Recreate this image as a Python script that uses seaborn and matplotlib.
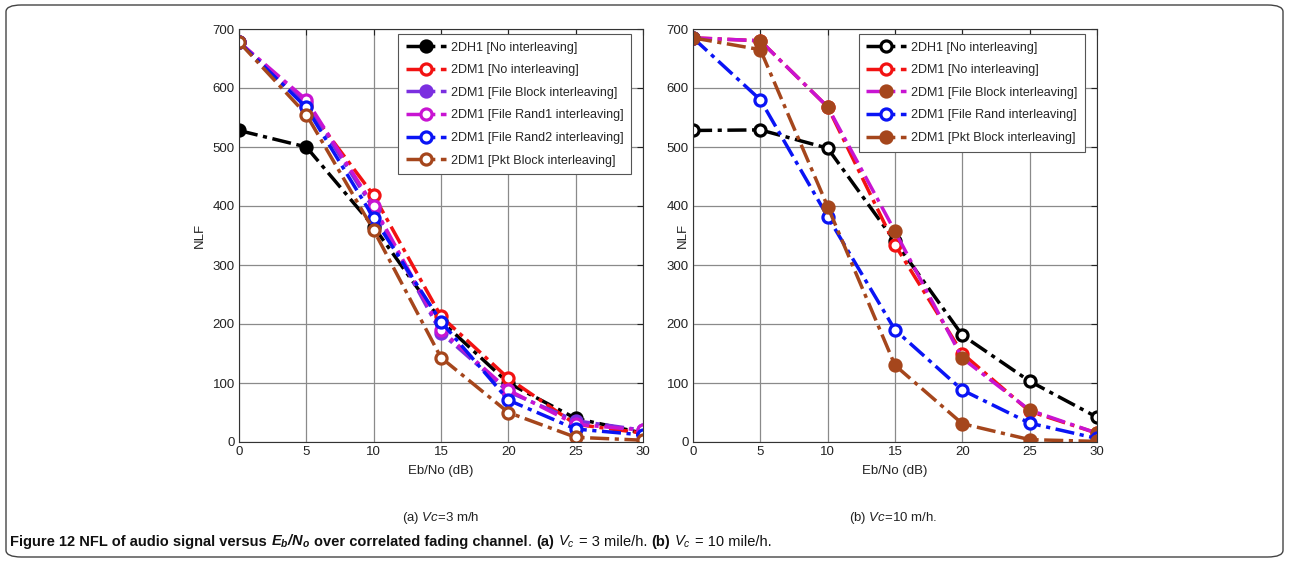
import numpy as np
import pandas as pd
import matplotlib
matplotlib.use("Agg")
import matplotlib.pyplot as plt
import seaborn as sns
from matplotlib.patches import FancyBboxPatch
from matplotlib.transforms import IdentityTransform

# ---------------- data ----------------
ebno = [0, 5, 10, 15, 20, 25, 30]

# (a) Vc = 3 m/h
a_labels = ["2DH1 [No interleaving]", "2DM1 [No interleaving]",
            "2DM1 [File Block interleaving]", "2DM1 [File Rand1 interleaving]",
            "2DM1 [File Rand2 interleaving]", "2DM1 [Pkt Block interleaving]"]
a_dh1_no = [528, 500, 365, 205, 100, 40, 15]
a_dm1_no = [678, 570, 418, 213, 108, 30, 15]
a_dm1_fblock = [678, 575, 395, 185, 85, 36, 20]
a_dm1_frand1 = [678, 580, 400, 190, 88, 30, 20]
a_dm1_frand2 = [678, 567, 380, 204, 71, 22, 12]
a_dm1_pkt = [678, 555, 359, 143, 50, 8, 3]

# (b) Vc = 10 m/h
b_labels = ["2DH1 [No interleaving]", "2DM1 [No interleaving]",
            "2DM1 [File Block interleaving]", "2DM1 [File Rand interleaving]",
            "2DM1 [Pkt Block interleaving]"]
b_dh1_no = [528, 529, 498, 340, 181, 103, 42]
b_dm1_no = [685, 680, 568, 334, 150, 52, 15]
b_dm1_fblock = [685, 680, 568, 357, 142, 54, 15]
b_dm1_frand = [685, 580, 382, 190, 88, 32, 6]
b_dm1_pkt = [685, 665, 399, 130, 31, 4, 1]

x_ticks = [0, 5, 10, 15, 20, 25, 30]
y_ticks = [0, 100, 200, 300, 400, 500, 600, 700]

# ---------------- style ----------------
sns.set_style("white")
FONT = ["Liberation Sans", "DejaVu Sans"]
plt.rcParams["font.family"] = FONT
plt.rcParams["mathtext.fontset"] = "custom"
plt.rcParams["mathtext.rm"] = "Liberation Sans"
plt.rcParams["mathtext.it"] = "Liberation Sans:italic"
plt.rcParams["mathtext.bf"] = "Liberation Sans:bold:italic"

BLACK = "#000000"
RED = "#f21212"
PURPLE = "#7b2fe0"
MAGENTA = "#c814d2"
BLUE = "#0a14f5"
BROWN = "#a5461c"

fig = plt.figure(figsize=(12.89, 5.62), dpi=100)
W, H = 1289, 562
axA = fig.add_axes([239 / W, 1 - 442 / H, 404 / W, 413 / H])
axB = fig.add_axes([693 / W, 1 - 442 / H, 404 / W, 413 / H])

LW = 2.5
MS = 8
MEW = 2.3


def draw(ax, y, label, color, face, edge=None):
    edge = edge or color
    df = pd.DataFrame({"x": ebno, "y": y})
    sns.lineplot(data=df, x="x", y="y", ax=ax, color=color, label=label,
                 linestyle=(0, (5.5, 1.6, 1.2, 1.6)), linewidth=LW,
                 marker="o", markersize=MS, markerfacecolor=face,
                 markeredgecolor=edge, markeredgewidth=MEW)


draw(axA, a_dh1_no, a_labels[0], BLACK, BLACK)
draw(axA, a_dm1_no, a_labels[1], RED, "white")
draw(axA, a_dm1_fblock, a_labels[2], PURPLE, PURPLE)
draw(axA, a_dm1_frand1, a_labels[3], MAGENTA, "white")
draw(axA, a_dm1_frand2, a_labels[4], BLUE, "white")
draw(axA, a_dm1_pkt, a_labels[5], BROWN, "white")

draw(axB, b_dh1_no, b_labels[0], BLACK, "white")
draw(axB, b_dm1_no, b_labels[1], RED, "white")
draw(axB, b_dm1_fblock, b_labels[2], MAGENTA, BROWN, BROWN)
draw(axB, b_dm1_frand, b_labels[3], BLUE, "white")
draw(axB, b_dm1_pkt, b_labels[4], BROWN, BROWN)

for ax, ylab_x in ((axA, (200 - 239) / 404), (axB, (683 - 693) / 404)):
    ax.set_xlim(0, 30)
    ax.set_ylim(0, 700)
    ax.set_xticks(x_ticks)
    ax.set_yticks(y_ticks)
    ax.grid(True, color="#8a8a8a", linewidth=0.9)
    ax.set_axisbelow(True)
    ax.tick_params(direction="in", length=4, width=0.8, top=True, right=True,
                   labelsize=9.5, pad=3, colors="#222222")
    for s in ax.spines.values():
        s.set_color("#333333")
        s.set_linewidth(0.8)
    ax.set_xlabel("Eb/No (dB)", fontsize=9.5, color="#222222", va="center")
    ax.xaxis.set_label_coords(0.5, -0.07)
    ax.set_ylabel("NLF", fontsize=9.5, color="#222222", va="center")
    ax.yaxis.set_label_coords(ylab_x, 0.5)
    leg = ax.legend(loc="upper right",
                    bbox_to_anchor=(1 - 12 / 404, 1 - 5 / 413),
                    borderaxespad=0, fontsize=9, handlelength=3.2,
                    handletextpad=0.4, labelspacing=0.85, borderpad=0.6,
                    fancybox=False, framealpha=1, edgecolor="#555555")
    leg.get_frame().set_linewidth(0.8)

# sub captions
fig.text(441 / W, 1 - 518 / H, "(a) $Vc$=3 m/h", ha="center", va="center",
         fontsize=9.5, color="#222222")
fig.text(893 / W, 1 - 518 / H, "(b) $Vc$=10 m/h.", ha="center", va="center",
         fontsize=9.5, color="#222222")

# border
border = FancyBboxPatch((6 / W, 5 / H), (W - 12) / W, (H - 10) / H,
                        boxstyle="round,pad=0,rounding_size=0.012",
                        transform=fig.transFigure, fill=False,
                        edgecolor="#444444", linewidth=1.0)
fig.patches.append(border)

# caption (sequential pieces)
renderer = fig.canvas.get_renderer()
pieces = [
    ("Figure 12 NFL of audio signal versus", "bold", 0),
    (r"$\mathbf{E_b/N_o}$", "bold", 1),
    ("over correlated fading channel", "bold", 1),
    (".", "normal", 0),
    ("(a)", "bold", 1),
    (r"$V_c$", "normal", 1),
    ("= 3 mile/h.", "normal", 1),
    ("(b)", "bold", 1),
    (r"$V_c$", "normal", 1),
    ("= 10 mile/h.", "normal", 1),
]
CAP_FS = 10.5
space_t = fig.text(0, 0, "a a", fontsize=CAP_FS)
aa_t = fig.text(0, 0, "aa", fontsize=CAP_FS)
sp = (space_t.get_window_extent(renderer).width
      - aa_t.get_window_extent(renderer).width)
space_t.remove()
aa_t.remove()
xcur = 10.0
ycap = H - 546
for s, w, gap in pieces:
    xcur += gap * sp
    t = fig.text(xcur, ycap, s, fontsize=CAP_FS, fontweight=w,
                 transform=IdentityTransform(), va="baseline", ha="left",
                 color="#111111")
    xcur = t.get_window_extent(renderer).x1

fig.savefig("out.png", dpi=100)
